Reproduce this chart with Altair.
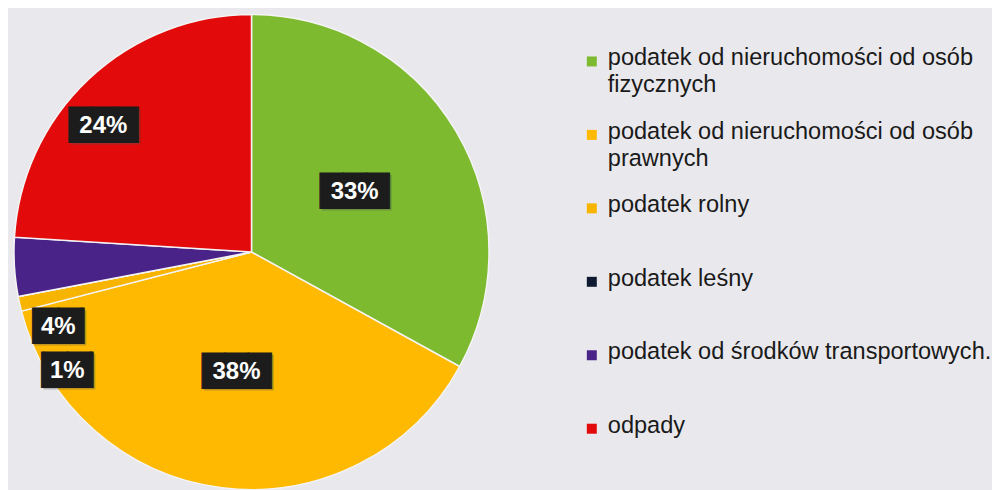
import altair as alt
import pandas as pd

categories = [
    "podatek od nieruchomości od osób\nfizycznych",
    "podatek od nieruchomości od osób\nprawnych",
    "podatek rolny",
    "podatek leśny",
    "podatek od środków transportowych.",
    "odpady",
]
shares = [33, 38, 1, 0, 4, 24]
colors = ["#7dba2f", "#ffb900", "#f7b400", "#0f1a30", "#4a2389", "#e20a0a"]

df = pd.DataFrame({"category": categories, "share": shares, "idx": list(range(len(categories)))})

base = alt.Chart(df).transform_calculate(
    label="datum.share + '%'",
    box="length(datum.share + '%') > 2 ? '\u2588\u2588\u2588' : '\u2595\u2588\u2588\u258f'",
)

theta = alt.Theta("share:Q", stack=True)
order = alt.Order("idx:Q", sort="ascending")
color = alt.Color("category:N", scale=alt.Scale(domain=categories, range=colors), legend=None)

pie = base.mark_arc(outerRadius=238, stroke="#f4f4f4", strokeWidth=1.5).encode(
    theta=theta, order=order, color=color,
)


def label_layer(expr, radius, dx=0, dy=0):
    shadow = base.mark_text(radius=radius, dx=dx + 2, dy=dy + 2, font="DejaVu Sans", fontSize=30,
                            color="#555555", opacity=0.35).encode(
        theta=theta, order=order,
        text=alt.condition(expr, "box:N", alt.value("")))
    box = base.mark_text(radius=radius, dx=dx, dy=dy, font="DejaVu Sans", fontSize=30,
                         color="#1c1c1c", stroke="#1c1c1c", strokeWidth=1).encode(
        theta=theta, order=order,
        text=alt.condition(expr, "box:N", alt.value("")))
    txt = base.mark_text(radius=radius, dx=dx, dy=dy, font="Liberation Sans", fontSize=24,
                         fontWeight="bold", color="white").encode(
        theta=theta, order=order,
        text=alt.condition(expr, "label:N", alt.value("")))
    return [shadow, box, txt]


layers = [pie]
layers += label_layer("datum.share >= 30", 120, 0, 1)
layers += label_layer("datum.idx == 5", 195, -15, 16)
layers += label_layer("datum.idx == 4", 207, 13, 62)
layers += label_layer("datum.idx == 2", 220, 30, 71)

pie_panel = alt.layer(*layers).properties(width=488, height=488)

leg_base = alt.Chart(df).encode(
    y=alt.Y("category:N", sort=categories,
            scale=alt.Scale(type="point", range=[53, 421], padding=0), axis=None)
)
squares = leg_base.mark_square(size=100, opacity=1).encode(x=alt.value(37), color=color)
texts = leg_base.mark_text(align="left", baseline="alphabetic", dy=4, lineBreak="\n",
                           lineHeight=27, font="Liberation Sans", fontSize=23.6,
                           color="#1a1a1a").encode(x=alt.value(53), text="category:N")
legend = alt.layer(squares, texts).properties(width=430, height=488)

chart = alt.hconcat(pie_panel, legend, spacing=60).properties(
    padding=0, background="#e9e9ed"
).configure_view(stroke=None)

chart.save("out.html", embed_options={"renderer": "svg", "actions": False})
